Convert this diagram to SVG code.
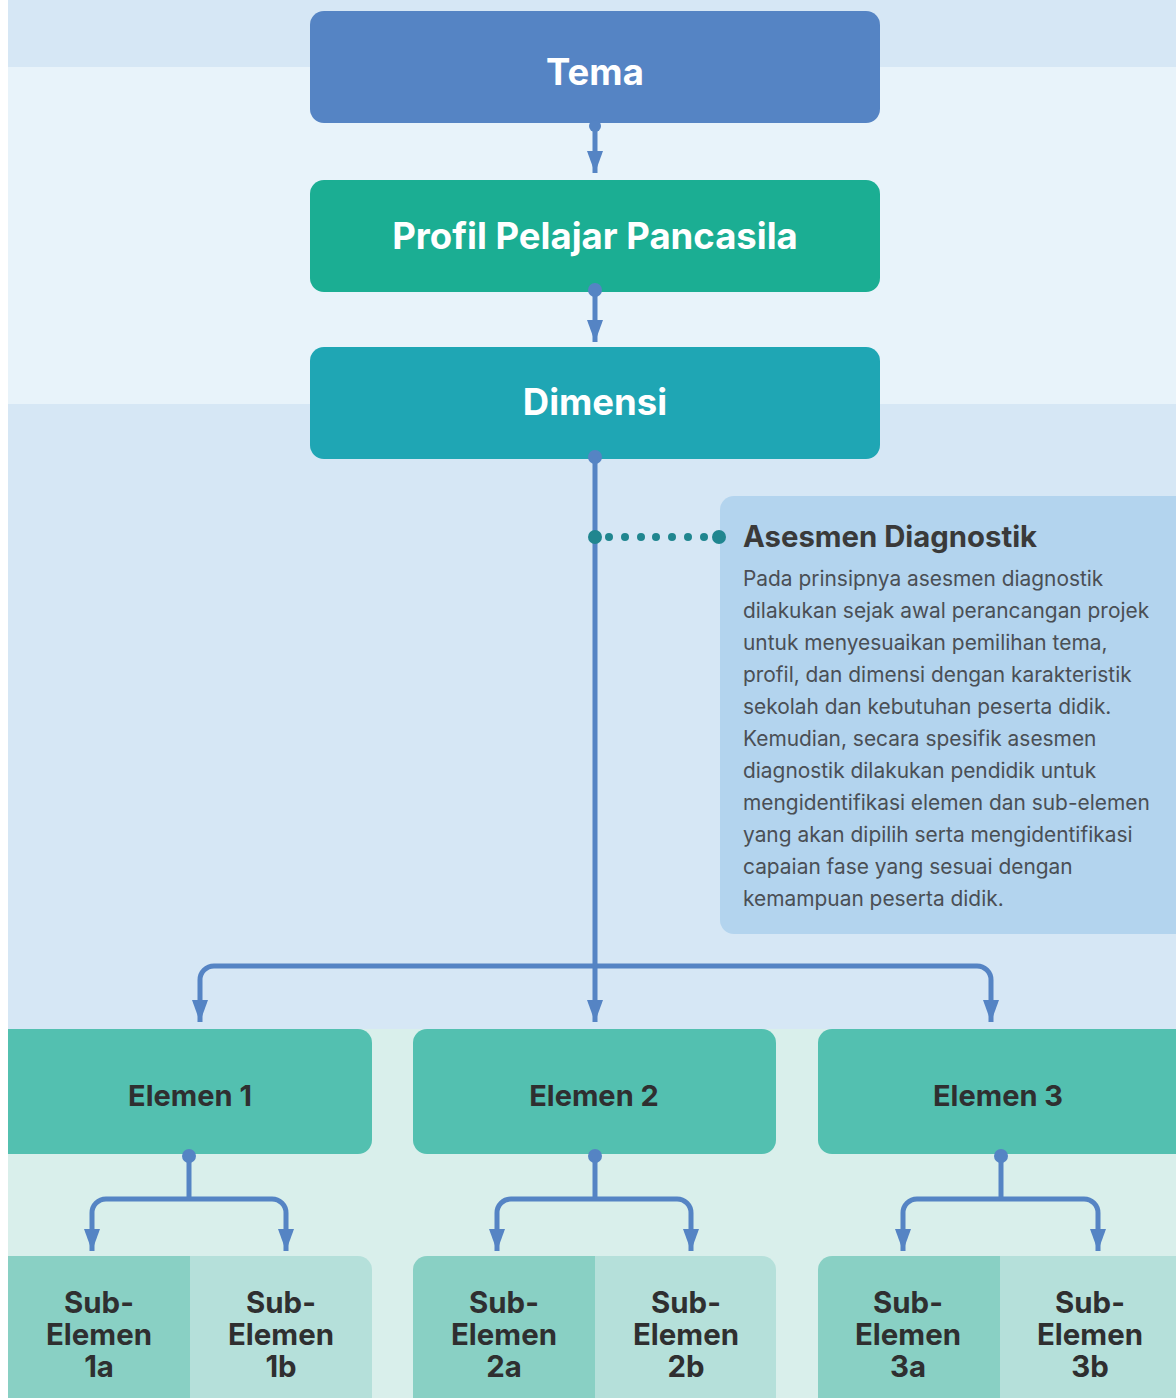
<svg xmlns="http://www.w3.org/2000/svg" width="1176" height="1398" viewBox="0 0 1176 1398">
<defs>
<style>
.t{font-family:Inter,"Noto Sans","Liberation Sans",sans-serif}
.h{font-weight:700;fill:#fff;text-anchor:middle}
.e{font-weight:700;fill:#2f2f30;text-anchor:middle;font-size:29px}
.s{font-weight:700;fill:#2f2f30;text-anchor:middle;font-size:29.4px}
.b{font-size:20.9px;fill:#4a4f55}
.ln{fill:none;stroke:#5584c4;stroke-width:5}
.dot{fill:#5584c4}
</style>
<marker id="ah" viewBox="0 0 22 16" refX="22" refY="8" markerWidth="22" markerHeight="16" markerUnits="userSpaceOnUse" orient="auto">
<path d="M0 0 L22 8 L0 16 Z" fill="#5584c4"/>
</marker>
</defs>
<rect x="0" y="0" width="1176" height="1398" fill="#ffffff"/>
<rect x="8" y="0" width="1168" height="67" fill="#d6e7f5"/>
<rect x="8" y="67" width="1168" height="337" fill="#e8f3fa"/>
<rect x="8" y="404" width="1168" height="625" fill="#d6e7f5"/>
<rect x="8" y="1029" width="1168" height="369" fill="#d9efeb"/>

<g id="tema"><rect x="310" y="11" width="570" height="112" rx="14" fill="#5584c4"/><text class="t h" x="595" y="85" font-size="36.5">Tema</text></g>
<g id="profil"><rect x="310" y="180" width="570" height="112" rx="14" fill="#1bae93"/><text class="t h" x="595" y="249" font-size="36.5">Profil Pelajar Pancasila</text></g>
<g id="dimensi"><rect x="310" y="347" width="570" height="112" rx="14" fill="#1fa6b4"/><text class="t h" x="595" y="415" font-size="36.5">Dimensi</text></g>

<g id="panel">
<rect x="720" y="496" width="480" height="438" rx="14" fill="#b3d4ee"/>
<text class="t" x="743" y="547" font-size="29.3" font-weight="700" fill="#3a3a3a">Asesmen Diagnostik</text>
<text class="t b" x="743">
<tspan x="743" y="586">Pada prinsipnya asesmen diagnostik</tspan>
<tspan x="743" y="618">dilakukan sejak awal perancangan projek</tspan>
<tspan x="743" y="650">untuk menyesuaikan pemilihan tema,</tspan>
<tspan x="743" y="682">profil, dan dimensi dengan karakteristik</tspan>
<tspan x="743" y="714">sekolah dan kebutuhan peserta didik.</tspan>
<tspan x="743" y="746">Kemudian, secara spesifik asesmen</tspan>
<tspan x="743" y="778">diagnostik dilakukan pendidik untuk</tspan>
<tspan x="743" y="810">mengidentifikasi elemen dan sub-elemen</tspan>
<tspan x="743" y="842">yang akan dipilih serta mengidentifikasi</tspan>
<tspan x="743" y="874">capaian fase yang sesuai dengan</tspan>
<tspan x="743" y="906">kemampuan peserta didik.</tspan>
</text>
</g>

<g id="elemen1"><path d="M8 1029 H358 a14 14 0 0 1 14 14 V1140 a14 14 0 0 1 -14 14 H8 Z" fill="#53c0b0"/><text class="t e" x="190" y="1106">Elemen 1</text></g>
<g id="elemen2"><rect x="413" y="1029" width="363" height="125" rx="14" fill="#53c0b0"/><text class="t e" x="594" y="1106">Elemen 2</text></g>
<g id="elemen3"><rect x="818" y="1029" width="372" height="125" rx="14" fill="#53c0b0"/><text class="t e" x="998" y="1106">Elemen 3</text></g>

<g id="sub1a"><rect x="8" y="1256" width="182" height="150" fill="#89d0c4"/><text class="t s" x="99"><tspan x="99" y="1313">Sub-</tspan><tspan x="99" y="1345">Elemen</tspan><tspan x="99" y="1377">1a</tspan></text></g>
<g id="sub1b"><path d="M190 1256 H358 a14 14 0 0 1 14 14 V1406 H190 Z" fill="#b5e0da"/><text class="t s" x="281"><tspan x="281" y="1313">Sub-</tspan><tspan x="281" y="1345">Elemen</tspan><tspan x="281" y="1377">1b</tspan></text></g>
<g id="sub2a"><path d="M595 1256 H427 a14 14 0 0 0 -14 14 V1406 H595 Z" fill="#89d0c4"/><text class="t s" x="504"><tspan x="504" y="1313">Sub-</tspan><tspan x="504" y="1345">Elemen</tspan><tspan x="504" y="1377">2a</tspan></text></g>
<g id="sub2b"><path d="M595 1256 H762 a14 14 0 0 1 14 14 V1406 H595 Z" fill="#b5e0da"/><text class="t s" x="686"><tspan x="686" y="1313">Sub-</tspan><tspan x="686" y="1345">Elemen</tspan><tspan x="686" y="1377">2b</tspan></text></g>
<g id="sub3a"><path d="M1000 1256 H832 a14 14 0 0 0 -14 14 V1406 H1000 Z" fill="#89d0c4"/><text class="t s" x="908"><tspan x="908" y="1313">Sub-</tspan><tspan x="908" y="1345">Elemen</tspan><tspan x="908" y="1377">3a</tspan></text></g>
<g id="sub3b"><rect x="1000" y="1256" width="190" height="150" fill="#b5e0da"/><text class="t s" x="1090"><tspan x="1090" y="1313">Sub-</tspan><tspan x="1090" y="1345">Elemen</tspan><tspan x="1090" y="1377">3b</tspan></text></g>

<g id="connectors">
<circle class="dot" cx="595" cy="126" r="6"/>
<path class="ln" d="M595 126 V173" marker-end="url(#ah)"/>
<circle class="dot" cx="595" cy="290" r="7"/>
<path class="ln" d="M595 290 V342" marker-end="url(#ah)"/>
<circle class="dot" cx="595" cy="457" r="7"/>
<path class="ln" d="M595 457 V1022" marker-end="url(#ah)"/>
<path class="ln" d="M595 966 H214 a14 14 0 0 0 -14 14 V1022" marker-end="url(#ah)"/>
<path class="ln" d="M595 966 H977 a14 14 0 0 1 14 14 V1022" marker-end="url(#ah)"/>
<g fill="#20868f">
<circle cx="595" cy="537" r="7"/>
<circle cx="609" cy="537" r="4"/><circle cx="625" cy="537" r="4"/><circle cx="641" cy="537" r="4"/><circle cx="656" cy="537" r="4"/><circle cx="672" cy="537" r="4"/><circle cx="688" cy="537" r="4"/><circle cx="704" cy="537" r="4"/>
<circle cx="719" cy="537" r="7"/>
</g>
<circle class="dot" cx="189" cy="1156" r="7"/>
<path class="ln" d="M189 1156 V1199"/>
<path class="ln" d="M189 1199 H106 a14 14 0 0 0 -14 14 V1251" marker-end="url(#ah)"/>
<path class="ln" d="M189 1199 H272 a14 14 0 0 1 14 14 V1251" marker-end="url(#ah)"/>
<circle class="dot" cx="595" cy="1156" r="7"/>
<path class="ln" d="M595 1156 V1199"/>
<path class="ln" d="M595 1199 H511 a14 14 0 0 0 -14 14 V1251" marker-end="url(#ah)"/>
<path class="ln" d="M595 1199 H677 a14 14 0 0 1 14 14 V1251" marker-end="url(#ah)"/>
<circle class="dot" cx="1001" cy="1156" r="7"/>
<path class="ln" d="M1001 1156 V1199"/>
<path class="ln" d="M1001 1199 H917 a14 14 0 0 0 -14 14 V1251" marker-end="url(#ah)"/>
<path class="ln" d="M1001 1199 H1084 a14 14 0 0 1 14 14 V1251" marker-end="url(#ah)"/>
</g>
</svg>
